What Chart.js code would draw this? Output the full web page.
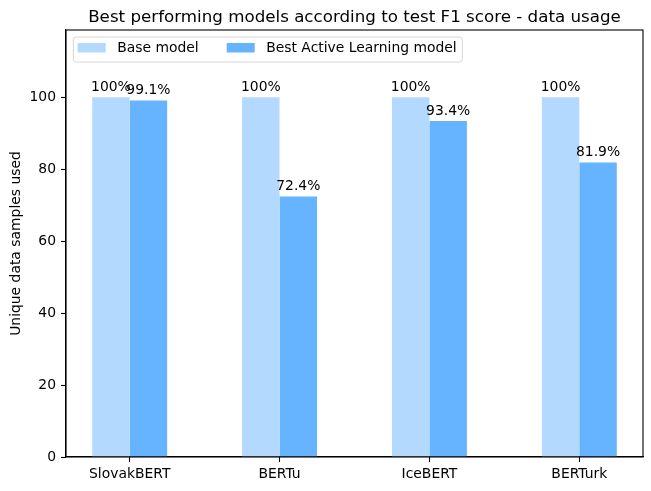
<!DOCTYPE html>
<html>
<head>
<meta charset="utf-8">
<script src="https://cdn.jsdelivr.net/npm/chart.js@4"></script>
<style>
  html, body { margin: 0; padding: 0; background: #fff; }
  #wrap { width: 651px; height: 491px; position: relative; }
</style>
</head>
<body>
<div id="wrap"><canvas id="chart"></canvas></div>
<script>
const title = 'Best performing models according to test F1 score - data usage';
const yTitle = 'Unique data samples used';
const models = ['SlovakBERT', 'BERTu', 'IceBERT', 'BERTurk'];
const seriesNames = ['Base model', 'Best Active Learning model'];
const baseValues = [100, 100, 100, 100];
const activeValues = [99.1, 72.4, 93.4, 81.9];
const yTicks = [0, 20, 40, 60, 80, 100];
const yMax = 118.7;

const FONT = 'DejaVu Sans';
Chart.defaults.font.family = FONT;
Chart.defaults.color = '#000';

const toPoints = values => values.map((v, i) => ({ x: i, y: v }));

// value labels above each bar
const barLabels = {
  id: 'barLabels',
  afterDatasetsDraw(chart) {
    const ctx = chart.ctx;
    ctx.save();
    ctx.font = '13.9px "' + FONT + '"';
    ctx.fillStyle = '#000';
    ctx.textAlign = 'center';
    ctx.textBaseline = 'alphabetic';
    chart.data.datasets.forEach((ds, di) => {
      chart.getDatasetMeta(di).data.forEach((bar, i) => {
        ctx.fillText(ds.data[i].y + '%', bar.x, bar.y - 6.5);
      });
    });
    ctx.restore();
  }
};

// frame, title and boxed legend like matplotlib
const decorations = {
  id: 'decorations',
  afterDraw(chart) {
    const ctx = chart.ctx;
    const a = chart.chartArea;
    ctx.save();
    ctx.strokeStyle = '#000';
    ctx.lineWidth = 1.1;
    ctx.strokeRect(a.left, a.top, a.right - a.left, a.bottom - a.top);

    ctx.fillStyle = '#000';
    ctx.font = '16.7px "' + FONT + '"';
    ctx.textAlign = 'center';
    ctx.textBaseline = 'alphabetic';
    ctx.fillText(title, (a.left + a.right) / 2, 22);

    // legend
    const lx = a.left + 7.3, ly = a.top + 7, lw = 389, lh = 25;
    ctx.beginPath();
    ctx.roundRect(lx, ly, lw, lh, 3);
    ctx.fillStyle = 'rgba(255,255,255,0.8)';
    ctx.fill();
    ctx.strokeStyle = '#d6d6d6';
    ctx.lineWidth = 1;
    ctx.stroke();

    ctx.font = '13.9px "' + FONT + '"';
    ctx.textAlign = 'left';
    ctx.textBaseline = 'middle';
    const offsets = [4.4, 153.4];
    chart.data.datasets.forEach((ds, i) => {
      const px = lx + offsets[i];
      ctx.fillStyle = ds.backgroundColor;
      ctx.fillRect(px, ly + 6, 28, 9.5);
      ctx.fillStyle = '#000';
      ctx.fillText(ds.label, px + 39.5, ly + 11.5);
    });
    ctx.restore();
  }
};

new Chart(document.getElementById('chart'), {
  type: 'bar',
  data: {
    datasets: [
      { label: seriesNames[0], data: toPoints(baseValues), backgroundColor: '#b3d9ff' },
      { label: seriesNames[1], data: toPoints(activeValues), backgroundColor: '#66b3ff' }
    ]
  },
  options: {
    responsive: true,
    maintainAspectRatio: false,
    animation: false,
    categoryPercentage: 0.5,
    barPercentage: 1.0,
    layout: { padding: { top: 30, right: 8, left: 0, bottom: 0 } },
    plugins: {
      legend: { display: false },
      title: { display: false },
      tooltip: { enabled: false }
    },
    scales: {
      x: {
        type: 'linear',
        min: -0.425,
        max: 3.425,
        offset: false,
        afterBuildTicks: axis => { axis.ticks = models.map((m, i) => ({ value: i })); },
        afterFit: axis => { axis.height = 34; },
        ticks: {
          callback: v => models[v],
          font: { size: 13.9 },
          padding: 4,
          maxRotation: 0,
          autoSkip: false
        },
        grid: { drawOnChartArea: false, offset: false, tickLength: 5, color: '#000', tickWidth: 1.1 },
        border: { color: '#000', width: 1.1 }
      },
      y: {
        min: 0,
        max: yMax,
        afterBuildTicks: axis => { axis.ticks = yTicks.map(v => ({ value: v })); },
        afterFit: axis => { axis.width = 66; },
        ticks: { font: { size: 13.9 }, padding: 5 },
        grid: { drawOnChartArea: false, tickLength: 5, color: '#000', tickWidth: 1.1 },
        border: { color: '#000', width: 1.1 },
        title: {
          display: true,
          text: yTitle,
          font: { size: 13.9 },
          padding: { top: 8, bottom: 0 }
        }
      }
    }
  },
  plugins: [barLabels, decorations]
});
</script>
</body>
</html>
